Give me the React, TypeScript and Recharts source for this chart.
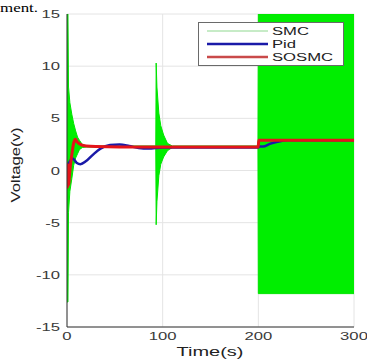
import React from 'react';
import { ComposedChart, Area, Line, XAxis, YAxis, CartesianGrid, Legend } from 'recharts';

// SMC is drawn as its min/max envelope (the switching is too fast to show single swings)
const smcTime = [0, 1, 1.6, 3, 5, 7, 9, 11, 13, 16, 20, 92.8, 93.2, 94, 96, 98, 101, 105, 110, 199.6, 200, 300];
const smcLow = [-12.6, -12.6, -4, -2, -0.8, 0.5, 1.2, 1.6, 2.0, 2.2, 2.25, 2.25, -5.2, -3, -0.5, 0.6, 1.3, 1.9, 2.2, 2.25, -11.8, -11.8];
const smcHigh = [15, 15, 8, 6.5, 5.4, 4.5, 3.8, 3.2, 2.9, 2.5, 2.35, 2.35, 10.3, 8, 5.5, 4.3, 3.4, 2.6, 2.35, 2.35, 15, 15];

const pidTime = [0, 3, 6, 10, 14, 20, 27, 35, 45, 55, 65, 75, 85, 100, 199.8, 201, 205, 212, 220, 230, 300];
const pidVoltage = [0.3, 0.9, 1.15, 0.75, 0.6, 0.9, 1.5, 2.1, 2.45, 2.5, 2.35, 2.15, 2.1, 2.2, 2.2, 2.3, 2.3, 2.55, 2.75, 2.9, 2.9];

const sosmcTime = [0, 0.6, 1.2, 1.8, 2.5, 5, 8.5, 11, 15, 20, 30, 80, 199.8, 200.5, 300];
const sosmcVoltage = [0.7, -1.6, 0.5, -1.4, -0.5, 1.5, 3.0, 2.7, 2.45, 2.35, 2.3, 2.25, 2.25, 2.9, 2.9];

const timeTicks = [0, 100, 200, 300];
const voltageTicks = [-15, -10, -5, 0, 5, 10, 15];

const series = [
  { name: 'SMC', color: '#8fd88f', width: 1 },
  { name: 'Pid', color: '#1a1aa8', width: 2.5 },
  { name: 'SOSMC', color: '#c94a4a', width: 2.5 },
];

const smcData = smcTime.map((t, i) => ({ t, smc: [smcLow[i], smcHigh[i]] }));
const pidData = pidTime.map((t, i) => ({ t, pid: pidVoltage[i] }));
const sosmcData = sosmcTime.map((t, i) => ({ t, sosmc: sosmcVoltage[i] }));

const FONT = '"Liberation Sans", Arial, Helvetica, sans-serif';
const STRETCH = 'scale(1.45,1)';

const XTick = ({ x, y, payload }: any) => (
  <g transform={`translate(${x},${y})`}>
    <text transform={STRETCH} textAnchor="middle" dy="0.71em" fontSize={11.5} fontFamily={FONT} fill="#3a3a3a">
      {payload.value}
    </text>
  </g>
);

const YTick = ({ x, y, payload }: any) => (
  <g transform={`translate(${x},${y})`}>
    <text transform={STRETCH} textAnchor="end" dy="0.36em" fontSize={11.5} fontFamily={FONT} fill="#3a3a3a">
      {payload.value}
    </text>
  </g>
);

const LegendBox = () => (
  <svg width={146} height={44} style={{ display: 'block' }}>
    <rect x={0.5} y={0.5} width={145} height={43} fill="#fff" stroke="#6a6a6a" />
    {series.map((s, i) => (
      <g key={s.name}>
        <line x1={9} x2={70} y1={9 + i * 13} y2={9 + i * 13} stroke={s.color} strokeWidth={s.width} />
        <g transform={`translate(74,${9 + i * 13})`}>
          <text transform={STRETCH} dy="0.36em" fontSize={11.5} fontFamily={FONT} fill="#222">
            {s.name}
          </text>
        </g>
      </g>
    ))}
  </svg>
);

export default function App() {
  return (
    <div style={{ position: 'relative', width: 367, height: 360, overflow: 'hidden', background: '#fff' }}>
      <style>{'body{margin:0}'}</style>
      <div
        style={{
          position: 'absolute', left: 0, top: 0, fontFamily: '"Liberation Serif", "Times New Roman", serif',
          fontSize: 13, transform: 'scale(1.3,1)', transformOrigin: 'left top', lineHeight: 'normal',
        }}
      >
        ment.
      </div>
      <ComposedChart width={367} height={360} margin={{ top: 14, right: 13, bottom: 0, left: 0 }}>
        <CartesianGrid stroke="#e4e4e4" horizontalValues={voltageTicks} verticalValues={timeTicks} />
        <XAxis
          dataKey="t"
          type="number"
          domain={[0, 300]}
          ticks={timeTicks}
          allowDataOverflow
          height={33}
          tickSize={0}
          tickMargin={5}
          tick={<XTick />}
          stroke="#333"
          label={{
            content: () => (
              <text x={210} y={356} textAnchor="middle" fontSize={13} fontFamily={FONT} fill="#222" textLength={67} lengthAdjust="spacingAndGlyphs">
                Time(s)
              </text>
            ),
          }}
        />
        <YAxis
          type="number"
          domain={[-15, 15]}
          ticks={voltageTicks}
          allowDataOverflow
          width={67}
          tickSize={0}
          tickMargin={7}
          tick={<YTick />}
          stroke="#333"
          label={{
            content: () => (
              <text
                x={0}
                y={0}
                transform="translate(20,165) rotate(-90)"
                textAnchor="middle"
                fontSize={13}
                fontFamily={FONT}
                fill="#222"
                textLength={75}
                lengthAdjust="spacingAndGlyphs"
              >
                Voltage(v)
              </text>
            ),
          }}
        />
        <Area
          data={smcData}
          dataKey="smc"
          name="SMC"
          type="linear"
          stroke="#00e400"
          strokeWidth={1}
          fill="#00ee00"
          fillOpacity={1}
          isAnimationActive={false}
        />
        <Line data={pidData} dataKey="pid" name="Pid" type="monotone" stroke="#1a1aa8" strokeWidth={2.5} dot={false} isAnimationActive={false} />
        <Line data={sosmcData} dataKey="sosmc" name="SOSMC" type="monotone" stroke="#e4141a" strokeWidth={3} dot={false} isAnimationActive={false} />
        <Legend
          layout="horizontal"
          verticalAlign="middle"
          content={() => <LegendBox />}
          wrapperStyle={{ position: 'absolute', left: 198, top: 22, width: 146, height: 44 }}
        />
      </ComposedChart>
    </div>
  );
}
